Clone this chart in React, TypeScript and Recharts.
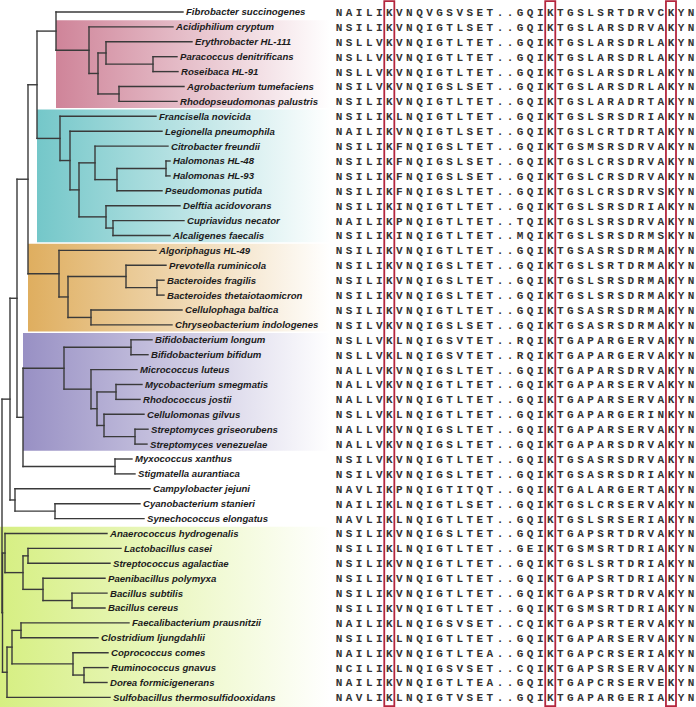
import React from 'react';
import { ComposedChart, XAxis, YAxis, Scatter, ReferenceArea, ReferenceLine } from 'recharts';

// ---------- DATA ----------
const taxa: string[] = [
  'Fibrobacter succinogenes', 'Acidiphilium cryptum', 'Erythrobacter HL-111', 'Paracoccus denitrificans',
  'Roseibaca HL-91', 'Agrobacterium tumefaciens', 'Rhodopseudomonas palustris', 'Francisella novicida',
  'Legionella pneumophila', 'Citrobacter freundii', 'Halomonas HL-48', 'Halomonas HL-93',
  'Pseudomonas putida', 'Delftia acidovorans', 'Cupriavidus necator', 'Alcaligenes faecalis',
  'Algoriphagus HL-49', 'Prevotella ruminicola', 'Bacteroides fragilis', 'Bacteroides thetaiotaomicron',
  'Cellulophaga baltica', 'Chryseobacterium indologenes', 'Bifidobacterium longum', 'Bifidobacterium bifidum',
  'Micrococcus luteus', 'Mycobacterium smegmatis', 'Rhodococcus jostii', 'Cellulomonas gilvus',
  'Streptomyces griseorubens', 'Streptomyces venezuelae', 'Myxococcus xanthus', 'Stigmatella aurantiaca',
  'Campylobacter jejuni', 'Cyanobacterium stanieri', 'Synechococcus elongatus', 'Anaerococcus hydrogenalis',
  'Lactobacillus casei', 'Streptococcus agalactiae', 'Paenibacillus polymyxa', 'Bacillus subtilis',
  'Bacillus cereus', 'Faecalibacterium prausnitzii', 'Clostridium ljungdahlii', 'Coprococcus comes',
  'Ruminococcus gnavus', 'Dorea formicigenerans', 'Sulfobacillus thermosulfidooxidans',
];

// parent node of each leaf, and the depth of its tip
const tipParent: string[] = [
  'A', 'alpha', 'C', 'E', 'E', 'D', 'D', 'teal', 'T', 'V', 'Z', 'Z', 'X', 'W', 'Y', 'Y',
  'orange', 'OC', 'OD', 'OD', 'OE', 'OE', 'PA', 'PA', 'PB', 'PD', 'PD', 'PE', 'PF', 'PF',
  'MX', 'MX', 'CA', 'CY', 'CY', 'F1', 'H', 'H', 'I', 'J', 'J', 'L', 'L', 'M', 'N', 'N', 'P',
];
const tipDepth: number[] = [
  183, 173, 192, 177, 178, 184, 177, 156, 162, 168, 170, 170, 162, 180, 184, 170,
  156, 166, 164, 164, 182, 172, 152, 148, 137, 142, 140, 144, 148, 147,
  132, 135, 150, 140, 144, 107, 121, 110, 105, 107, 105, 129, 98, 108, 108, 107, 110,
];

// internal nodes: id, parent, depth
const nodeIds: string[] = [
  'root', 'RR', 'QQ', 'S', 'R', 'A', 'alpha', 'B', 'C', 'E', 'D',
  'teal', 'T', 'U', 'V', 'X', 'Z', 'W', 'Y',
  'orange', 'OB', 'OC', 'OD', 'OE',
  'PP', 'purple', 'PA', 'PB', 'PC', 'PD', 'PE', 'PF', 'MX',
  'CA', 'CY', 'Q', 'F1', 'G', 'H', 'I', 'J', 'P', 'K', 'L', 'M', 'N',
];
const nodeParent: (string | null)[] = [
  null, 'root', 'RR', 'QQ', 'S', 'R', 'A', 'alpha', 'B', 'C', 'B',
  'R', 'teal', 'T', 'U', 'V', 'X', 'U', 'W',
  'S', 'orange', 'OB', 'OC', 'OB',
  'QQ', 'PP', 'purple', 'purple', 'PB', 'PC', 'PC', 'PE', 'PP',
  'RR', 'CA', 'root', 'Q', 'F1', 'G', 'G', 'I', 'Q', 'P', 'K', 'K', 'M',
];
const nodeDepth: number[] = [
  2, 10, 17, 28, 37, 56, 89, 98, 106, 153, 119,
  60, 70, 79, 95, 117, 166, 106, 113,
  59, 68, 126, 157, 91,
  23, 64, 131, 91, 97, 116, 104, 135, 115,
  15, 55, 2.5, 5, 23, 28, 43, 72, 7, 12, 21, 73, 84,
];

const sequences: string[] = [
  'NAILIKVNQVGSVSET..GQIKTGSLSRTDRVCKYN',
  'NSILIKVNQIGTLSET..GQIKTGSLARSDRVAKYN',
  'NSLLVKVNQIGTLTET..GQIKTGSLARSDRLAKYN',
  'NSLLVKVNQIGTLTET..GQIKTGSLARSDRLAKYN',
  'NSLLVKVNQIGTLTET..GQIKTGSLARSDRLAKYN',
  'NSILVKVNQIGSLSET..GQIKTGSLARSDRLAKYN',
  'NSILIKVNQIGTLTET..GQIKTGSLARADRTAKYN',
  'NSILIKLNQIGTLTET..GQIKTGSLSRSDRIAKYN',
  'NAILIKVNQIGTLSET..GQIKTGSLCRTDRTAKYN',
  'NSILIKFNQIGSLTET..GQIKTGSMSRSDRVAKYN',
  'NSILIKFNQIGSLSET..GQIKTGSLCRSDRVAKYN',
  'NSILIKFNQIGSLSET..GQIKTGSLCRSDRVAKYN',
  'NSILIKFNQIGSLTET..GQIKTGSLCRSDRVSKYN',
  'NSILIKINQIGTLTET..GQIKTGSLSRSDRIAKYN',
  'NAILIKPNQIGTLTET..TQIKTGSLSRSDRVAKYN',
  'NSILIKINQIGTLTET..MQIKTGSLSRSDRMSKYN',
  'NSILIKVNQIGTLTET..GQIKTGSASRSDRMAKYN',
  'NSILIKVNQIGSLTET..GQIKTGSLSRTDRMAKYN',
  'NSILIKVNQIGSLTET..GQIKTGSLSRSDRMAKYN',
  'NSILIKVNQIGSLTET..GQIKTGSLSRSDRMAKYN',
  'NSILIKVNQIGTLTET..GQIKTGSASRSDRMAKYN',
  'NSILVKVNQIGSLSET..GQIKTGSASRSDRMAKYN',
  'NSLLVKLNQIGSVTET..RQIKTGAPARGERVAKYN',
  'NSLLVKLNQIGSVTET..RQIKTGAPARGERVAKYN',
  'NALLVKVNQIGSLTET..GQIKTGAPARSDRVAKYN',
  'NALLVKVNQIGTLTET..GQIKTGAPARSERVAKYN',
  'NALLVKVNQIGTLTET..GQIKTGAPARSERVAKYN',
  'NSLLVKLNQIGTLTET..GQIKTGAPARGERINKYN',
  'NALLVKVNQIGSLTET..GQIKTGAPARSERVAKYN',
  'NALLVKVNQIGSLTET..GQIKTGAPARSDRVAKYN',
  'NSILVKVNQIGTLTET..GQIKTGSASRSDRVAKYN',
  'NSILVKVNQIGSLTET..GQIKTGSASRSDRIAKYN',
  'NAVLIKPNQIGTITQT..GQIKTGALARGERTAKYN',
  'NAILIKLNQIGTLSET..GQIKTGSLCRSERVAKYN',
  'NAVLIKLNQIGTLTET..GQIKTGSLSRSERIAKYN',
  'NSILIKVNQIGSLTET..GQIKTGAPSRTDRVAKYN',
  'NSILIKLNQIGTLTET..GEIKTGSMSRTDRIAKYN',
  'NSILIKVNQIGTLTET..GQIKTGSLSRTDRIAKYN',
  'NSILIKVNQIGTLTET..GQIKTGAPSRTDRIAKYN',
  'NSILIKVNQIGTLTET..GQIKTGAPSRTDRVAKYN',
  'NSILIKVNQIGTLTET..GQIKTGSMSRTDRIAKYN',
  'NAILIKLNQIGSVSET..CQIKTGAPSRTERVAKYN',
  'NSILIKLNQIGTLTET..GQIKTGAPARSERVAKYN',
  'NAILIKVNQIGTLTEA..GQIKTGAPCRSERIAKYN',
  'NCILIKLNQIGSVSET..CQIKTGAPSRSERVAKYN',
  'NAILIKVNQIGTLTEA..GQIKTGAPCRSERVEKYN',
  'NAVLIKLNQIGTVSET..GQIKTGAPARGERIAKYN',
];

const boxedColumns: number[] = [5, 21, 33];

const cladeFirst: number[] = [1, 7, 16, 22, 35];
const cladeLast: number[] = [6, 15, 21, 29, 46];
const cladeStartDepth: number[] = [56, 37, 28, 23, 0];
const cladeColors: string[] = ['#cf8499', '#74c7c9', '#dfae5f', '#9890c4', '#d6ef82'];

// ---------- LAYOUT CONSTANTS ----------
const W = 696;
const H = 707;
const ROW0 = 12;
const ROW_STEP = 14.9;
const Y_MIN = -ROW0 / ROW_STEP;
const Y_MAX = Y_MIN + H / ROW_STEP;
const COL0 = 339;
const COL_STEP = 10.06;
const SEQ_MIN = -COL0 / COL_STEP;
const SEQ_MAX = SEQ_MIN + W / COL_STEP;
const BAND_END = 330;

// ---------- TREE BUILD ----------
const depthOf: Record<string, number> = {};
const parentOf: Record<string, string | null> = {};
nodeIds.forEach((id, i) => {
  depthOf[id] = nodeDepth[i];
  parentOf[id] = nodeParent[i];
});
const childYs: Record<string, number[]> = {};
nodeIds.forEach((id) => (childYs[id] = []));
const nodeY: Record<string, number> = {};

function computeY(id: string): number {
  if (nodeY[id] !== undefined) return nodeY[id];
  const ys: number[] = [];
  tipParent.forEach((p, i) => {
    if (p === id) ys.push(i);
  });
  nodeIds.forEach((cid, i) => {
    if (nodeParent[i] === id) ys.push(computeY(cid));
  });
  childYs[id] = ys;
  const y = (Math.min(...ys) + Math.max(...ys)) / 2;
  nodeY[id] = y;
  return y;
}
nodeIds.forEach((id) => computeY(id));

type Seg = { x1: number; y1: number; x2: number; y2: number };
const segments: Seg[] = [];
taxa.forEach((_, i) => {
  segments.push({ x1: depthOf[tipParent[i]], y1: i, x2: tipDepth[i], y2: i });
});
nodeIds.forEach((id) => {
  const p = parentOf[id];
  if (p) segments.push({ x1: depthOf[p], y1: nodeY[id], x2: depthOf[id], y2: nodeY[id] });
  const ys = childYs[id];
  segments.push({ x1: depthOf[id], y1: Math.min(...ys), x2: depthOf[id], y2: Math.max(...ys) });
});

const labelData = taxa.map((name, i) => ({ x: tipDepth[i], y: i, name }));
const letterData: { x: number; y: number; ch: string }[] = [];
sequences.forEach((s, r) => {
  s.split('').forEach((ch, c) => letterData.push({ x: c, y: r, ch }));
});

const LabelShape = (p: any) => (
  <text
    x={p.cx + 3}
    y={p.cy}
    dy="0.36em"
    fontFamily="'Liberation Sans', Arial, sans-serif"
    fontSize={9.6}
    fontWeight="bold"
    fontStyle="italic"
    fill="#1c1c1c"
  >
    {p.payload.name}
  </text>
);

const LetterShape = (p: any) => (
  <text
    x={p.cx}
    y={p.cy}
    dy="0.36em"
    textAnchor="middle"
    fontFamily="'Liberation Mono', 'Courier New', monospace"
    fontSize={11}
    fontWeight="bold"
    fill="#333333"
  >
    {p.payload.ch}
  </text>
);

export default function App() {
  return (
    <div style={{ position: 'absolute', left: 0, top: 0, width: W, height: H, background: '#fff' }}>
      <ComposedChart width={W} height={H} margin={{ top: 0, right: 0, bottom: 0, left: 0 }}>
        <defs>
          {cladeColors.map((c, i) => (
            <linearGradient key={i} id={`clade${i}`} x1="0" y1="0" x2="1" y2="0">
              <stop offset="0%" stopColor={c} />
              <stop offset="45%" stopColor={c} stopOpacity={0.55} />
              <stop offset="100%" stopColor={c} stopOpacity={0} />
            </linearGradient>
          ))}
        </defs>
        <XAxis xAxisId="tree" type="number" dataKey="x" domain={[0, W]} hide allowDataOverflow />
        <XAxis xAxisId="seq" type="number" dataKey="x" domain={[SEQ_MIN, SEQ_MAX]} hide allowDataOverflow />
        <YAxis type="number" dataKey="y" domain={[Y_MIN, Y_MAX]} reversed hide allowDataOverflow />

        {cladeColors.map((_, i) => (
          <ReferenceArea
            key={`band${i}`}
            xAxisId="tree"
            x1={cladeStartDepth[i]}
            x2={BAND_END}
            y1={cladeFirst[i] - 0.5 + 0.05}
            y2={cladeLast[i] === taxa.length - 1 ? Y_MAX : cladeLast[i] + 0.5 - 0.05}
            fill={`url(#clade${i})`}
            fillOpacity={1}
            stroke="none"
            ifOverflow="visible"
          />
        ))}

        {segments.map((s, i) => (
          <ReferenceLine
            key={`seg${i}`}
            xAxisId="tree"
            segment={[{ x: s.x1, y: s.y1 }, { x: s.x2, y: s.y2 }]}
            stroke="#3a3a3a"
            strokeWidth={1.4}
            strokeLinecap="square"
            ifOverflow="visible"
          />
        ))}

        <Scatter xAxisId="tree" data={labelData} shape={LabelShape} isAnimationActive={false} />
        <Scatter xAxisId="seq" data={letterData} shape={LetterShape} isAnimationActive={false} />

        {boxedColumns.map((c) => (
          <ReferenceArea
            key={`box${c}`}
            xAxisId="seq"
            x1={c - 0.5}
            x2={c + 0.5}
            y1={Y_MIN + 0.07}
            y2={Y_MAX - 0.06}
            fill="none"
            fillOpacity={0}
            stroke="#b3263e"
            strokeWidth={1.8}
            ifOverflow="visible"
          />
        ))}
      </ComposedChart>
    </div>
  );
}
